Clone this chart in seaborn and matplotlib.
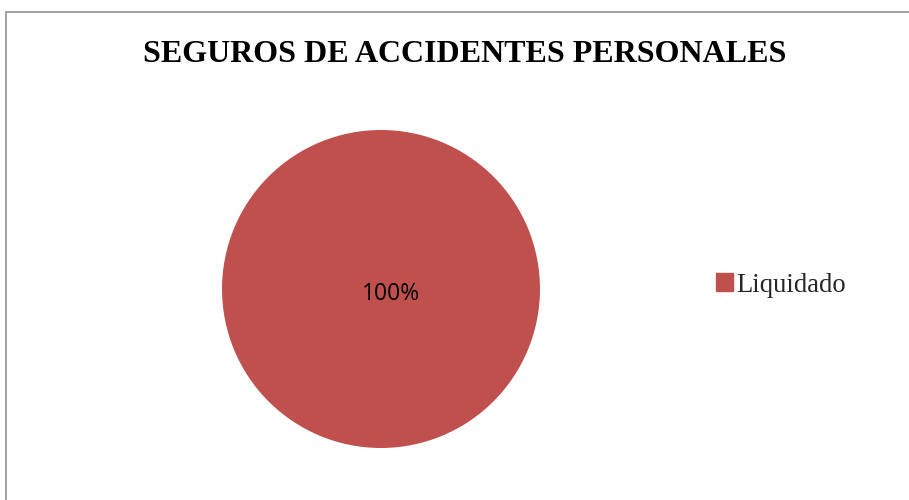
import matplotlib
matplotlib.use("Agg")
import matplotlib.pyplot as plt
import matplotlib.patches as mpatches
import seaborn as sns

# Chart data
categories = ["Liquidado"]
shares = [100]
title = "SEGUROS DE ACCIDENTES PERSONALES"
slice_color = "#C0504D"

sns.set_theme(style="white")
plt.rcParams["font.family"] = ["Liberation Serif", "DejaVu Serif"]

W, H = 909, 500
fig = plt.figure(figsize=(W / 100, H / 100), dpi=100)
fig.patch.set_facecolor("white")

# Outer chart frame (cut off on the right and bottom, as in the original)
frame = mpatches.Rectangle((5.5 / W, -0.1), 1.2, 1 - 11.5 / H + 0.1,
                           transform=fig.transFigure, fill=False,
                           edgecolor="#9A9A9A", linewidth=1.3)
fig.patches.append(frame)

# Title
fig.text(465 / W, 1 - 54 / H, title, ha="center", va="center",
         fontsize=23, fontweight="bold", color="black")

# Pie
ax = fig.add_axes([222 / W, 1 - 448 / H, 318 / W, 318 / H])
wedges, texts, autotexts = ax.pie(shares, colors=[slice_color], startangle=90,
                                  autopct="%1.0f%%", pctdistance=0.0,
                                  wedgeprops=dict(linewidth=0))
for t in autotexts:
    t.set_family(["Open Sans", "DejaVu Sans"])
    t.set_fontsize(16.5)
    t.set_color("black")
    t.set_position((0.065, -0.03))
ax.set_xlim(-1, 1)
ax.set_ylim(-1, 1)
ax.set_aspect("equal")
ax.axis("off")

# Legend
handles = [mpatches.Patch(color=slice_color, label=c) for c in categories]
fig.legend(handles=handles, loc="center left",
           bbox_to_anchor=(716 / W, 1 - 285 / H), frameon=False,
           fontsize=19.2, handlelength=0.65, handleheight=0.65,
           handletextpad=0.1, borderpad=0, borderaxespad=0)

fig.savefig("out.png", dpi=100, facecolor="white")
